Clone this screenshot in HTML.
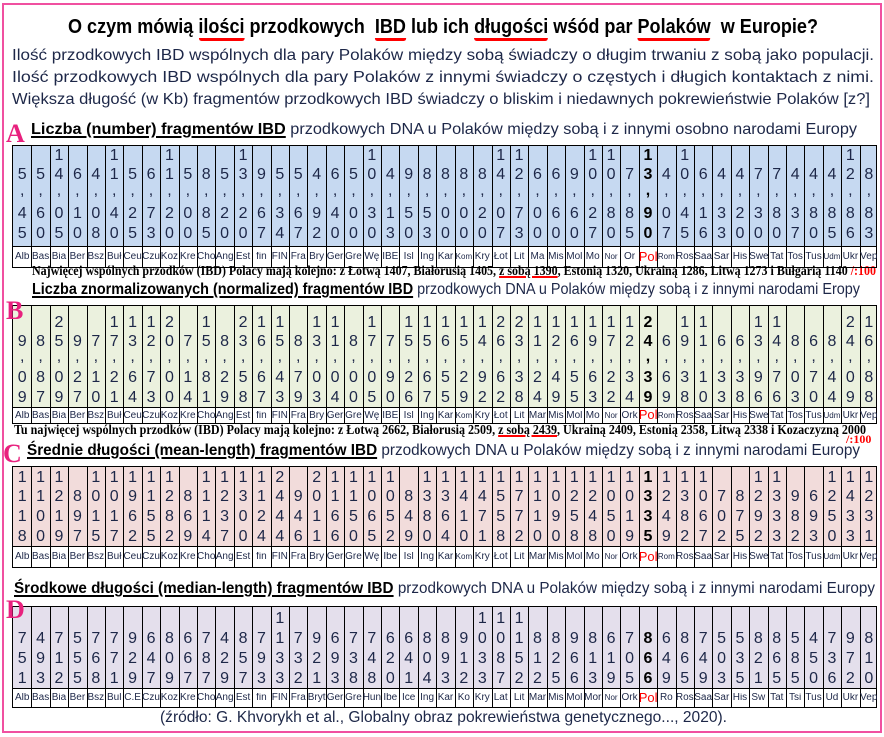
<!DOCTYPE html>
<html><head><meta charset="utf-8">
<style>
html,body{margin:0;padding:0;background:#fff;}
#page{position:relative;width:884px;height:737px;overflow:hidden;background:#fff;font-family:"Liberation Sans",sans-serif;color:#1d2748;}
.t{position:absolute;white-space:nowrap;transform-origin:0 0;line-height:1;}
.b{font-weight:bold;}
.u{text-decoration:underline;text-decoration-thickness:2px;text-underline-offset:2px;color:#000;}
.ru{border-bottom:3px solid #f00;border-radius:3px;padding-bottom:0px;}
.foot{font-family:"Liberation Serif",serif;font-weight:bold;color:#000;font-size:14px;}
.big{position:absolute;font-family:"Liberation Serif",serif;font-weight:bold;color:#e8217e;font-size:26px;line-height:1;z-index:5;}
.cell{position:absolute;text-align:center;font-size:16px;line-height:1;}
.lbl{position:absolute;text-align:center;font-size:10px;line-height:1;overflow:hidden;white-space:nowrap;}
</style></head>
<body>
<div id="page">
  <div style="position:absolute;left:2px;top:3px;width:876px;height:726px;border:2px solid #f050a0;"></div>

  <div class="t b" id="title" data-x="68" data-y="17" data-w="750" style="font-size:20px;color:#000;">O czym mówią <span class="ru">ilości</span> przodkowych &nbsp;<span class="ru">IBD</span> lub ich <span class="ru">długości</span> wśód par <span class="ru">Polaków</span> &nbsp;w Europie?</div>

  <div class="t" data-x="12" data-y="48" data-w="862" style="font-size:16px;">Ilość przodkowych IBD wspólnych dla pary Polaków między sobą świadczy o długim trwaniu z sobą jako populacji.</div>
  <div class="t" data-x="12" data-y="70" data-w="862" style="font-size:16px;">Ilość przodkowych IBD wspólnych dla pary Polaków z innymi świadczy o częstych i długich kontaktach z nimi.</div>
  <div class="t" data-x="12" data-y="92" data-w="858" style="font-size:16px;">Większa długość (w Kb) fragmentów przodkowych IBD świadczy o bliskim i niedawnych pokrewieństwie Polaków [z?]</div>

  <div class="t" data-x="31" data-y="122" data-w="826" style="font-size:16px;"><span class="u b">Liczba (number) fragmentów IBD</span> przodkowych DNA u Polaków między sobą i z innymi osobno narodami Europy</div>

  <div class="t foot" data-x="32" data-y="265" data-w="844">Najwięcej wspólnych przodków (IBD) Polacy mają kolejno: z Łotwą 1407, Białorusią 1405, <span style="text-decoration:underline;text-decoration-color:#f00;text-decoration-thickness:2px;">z sobą 1390</span>, Estonią 1320, Ukrainą 1286, Litwą 1273 i Bułgarią 1140 <span style="color:#f00;">/:100</span></div>

  <div class="t" data-x="32" data-y="282" data-w="828" style="font-size:16px;"><span class="u b">Liczba znormalizowanych (normalized) fragmentów IBD</span> przodkowych DNA u Polaków między sobą i z innymi narodami Eropy</div>

  <div class="t foot" data-x="14" data-y="424" data-w="852">Tu najwięcej wspólnych przodków (IBD) Polacy mają kolejno: z Łotwą 2662, Białorusią 2509, <span style="text-decoration:underline;text-decoration-color:#f00;text-decoration-thickness:2px;">z sobą 2439</span>, Ukrainą 2409, Estonią 2358, Litwą 2338 i Kozaczyzną 2000</div>
  <div class="t foot" style="left:846px;top:433px;color:#f00;font-size:12px;">/:100</div>

  <div class="t" data-x="27" data-y="443" data-w="833" style="font-size:16px;"><span class="u b">Średnie długości (mean-length) fragmentów IBD</span> przodkowych DNA u Polaków między sobą i z innymi narodami Europy</div>

  <div class="t" data-x="14" data-y="581" data-w="861" style="font-size:16px;"><span class="u b">Środkowe długości (median-length) fragmentów IBD</span> przodkowych DNA u Polaków między sobą i z innymi narodami Europy</div>

  <div class="t" data-x="160" data-y="710" data-w="567" style="font-size:16px;">(źródło: G. Khvorykh et al., Globalny obraz pokrewieństwa genetycznego..., 2020).</div>

  <div id="tables"></div>
  <div class="big" style="left:6px;top:121px;">A</div>
  <div class="big" style="left:6px;top:298px;">B</div>
  <div class="big" style="left:3px;top:441px;">C</div>
  <div class="big" style="left:6px;top:597px;">D</div>
</div>

<script>
// ---- data ----
const labelsA = ["Alb","Bas","Bia","Ber","Bsz","Buł","Ceu","Czu","Koz","Kre","Cho","Ang","Est","fin","FIN","Fra","Bry","Ger","Gre","Wę","IBE","Isl","Ing","Kar","Kom","Kry","Łot","Lit","Ma","Mis","Mol","Mo","Nor","Or","Pol","Rom","Ros","Saa","Sar","His","Swe","Tat","Tos","Tus","Udm","Ukr","Vep"];
const valuesA = [5.45,5.60,14.05,6.10,4.08,11.40,5.25,6.73,11.20,5.00,8.85,5.20,13.20,9.67,5.34,5.67,4.92,6.40,5.00,10.30,4.13,9.50,8.53,8.00,8.00,8.20,14.07,12.73,6.00,6.60,9.60,10.27,10.80,7.85,13.90,4.07,10.45,6.16,4.33,4.20,7.30,7.80,4.37,4.80,4.85,12.86,8.83];
const labelsB = ["Alb","Bas","Bia","Ber","Bsz","Buł","Ceu","Czu","Koz","Kre","Cho","Ang","Est","fin","FIN","Fra","Bry","Ger","Gre","Wę","IBE","Isl","Ing","Kar","Kom","Kry","Łot","Lit","Mar","Mis","Mol","Mo","Nor","Ork","Pol","Rom","Ros","Saa","Sar","His","Swe","Tat","Tos","Tus","Udm","Ukr","Vep"];
const valuesB = [9.09,8.87,25.09,9.27,7.10,17.21,13.64,12.73,20.00,7.14,15.81,8.29,23.58,16.67,15.43,8.79,13.03,11.04,8.00,17.05,7.90,15.26,15.67,16.55,15.29,14.92,26.62,23.38,11.24,12.49,16.55,19.63,17.22,12.34,24.39,6.69,19.38,11.10,6.33,6.38,13.96,14.76,8.03,6.70,8.44,24.09,16.88];
const labelsC = ["Alb","Bas","Bia","Ber","Bsz","Buł","Ceu","Czu","Koz","Kre","Cho","Ang","Est","fin","FIN","Fra","Bry","Ger","Gre","Wę","Ibe","Isl","Ing","Kar","Kom","Kry","Łot","Lit","Mar","Mis","Mol","Mo","Nor","Ork","Pol","Rom","Ros","Saa","Sar","His","Swe","Tat","Tos","Tus","Udm","Ukr","Vep"];
const valuesC = [1118,1100,1219,897,1015,1017,1962,1155,1282,869,1114,1237,1300,1124,2444,946,2011,1166,1150,1065,1052,849,1380,1364,1410,1471,1558,1772,1110,1090,1258,1248,1050,1019,1335,1249,1382,1067,702,875,1292,1333,982,693,1250,1433,1231];
const labelsD = ["Alb","Bas","Bia","Ber","Bsz","Bul","C.E","Czu","Koz","Kre","Cho","Ang","Est","fin","FIN","Fra","Bryt","Ger","Gre","Hun","Ibe","Ice","Ing","Kar","Ko","Kry","Lat","Lit","Mar","Mis","Mol","Mor","Nor","Ork","Pol","Ro","Ros","Saa","Sar","His","Sw","Tat","Tsi","Tus","Ud","Ukr","Vep"];
const valuesD = [751,493,712,555,768,771,929,647,809,667,787,429,857,793,1133,732,921,693,738,748,620,641,804,893,912,1033,1087,1152,812,825,966,813,619,705,866,649,865,749,503,535,821,865,585,450,736,972,810];

const smallLabels = ["Kom","Nor","Rom","Udm"];

function fmtDec(v){ return v.toFixed(2).replace('.', ','); }
function fmtInt(v){ return String(Math.round(v)); }

const X0 = 12, X1 = 877;

function drawTable(key, labels, values, fmt, fill, top, rowY, valBottom, labBottom){
  const cont = document.getElementById('tables');
  const n = labels.length;
  const cw = (X1 - X0) / n;
  const box = document.createElement('div');
  
  
  box.style.cssText = `position:absolute;left:${X0}px;top:${top}px;width:${X1-X0}px;height:${labBottom-top}px;border:1px solid #000;box-sizing:border-box;`;
  cont.appendChild(box);
  const fillDiv = document.createElement('div');
  
  
  fillDiv.style.cssText = `position:absolute;left:0;top:0;right:0;height:${valBottom-top-1}px;background:${fill};border-bottom:1px solid #000;`;
  box.appendChild(fillDiv);
  const nRows = rowY.length;
  for (let i = 0; i < n; i++){
    const x = i * cw;
    if (i > 0){
      const ln = document.createElement('div');
      
      
      ln.style.cssText = `position:absolute;left:${x}px;top:0;width:1px;bottom:0;background:#000;`;
      box.appendChild(ln);
    }
    const isPol = labels[i] === 'Pol';
    const s = fmt(values[i]);
    const chars = s.split('');
    const off = nRows - chars.length;
    chars.forEach((ch, j) => {
      const d = document.createElement('div');
      
      
      d.className = 'cell';
      const cy = rowY[off + j] - top;
      d.style.cssText += `left:${x}px;width:${cw}px;top:${cy-8}px;height:16px;` + (isPol ? 'font-weight:bold;color:#000;' : '') + (ch === ',' ? 'top:' + (cy - 10) + 'px;' : '');
      d.textContent = ch;
      box.appendChild(d);
    });
    const lb = document.createElement('div');
    
    
    lb.className = 'lbl';
    const lh = labBottom - valBottom;
    let fs = smallLabels.includes(labels[i]) ? 8 : 10;
    let col = '#1d2748';
    let dy = -1;
    if (isPol){ fs = 13; col = '#f00'; dy = -2; }
    lb.style.cssText += `left:${x}px;width:${cw}px;top:${valBottom-top + (lh-fs)/2 + dy}px;font-size:${fs}px;color:${col};`;
    lb.textContent = labels[i];
    box.appendChild(lb);
  }
}

drawTable('a', labelsA, valuesA, fmtDec, '#c6d9f1', 145, [155,174,192,213,233], 246, 268);
drawTable('b', labelsB, valuesB, fmtDec, '#ebf1de', 305, [322,341,358,377,397], 407, 424);
drawTable('c', labelsC, valuesC, fmtInt, '#f2dcdb', 466, [477,496,516,536], 546, 568);
drawTable('d', labelsD, valuesD, fmtInt, '#e4dfec', 606, [618,638,658,678], 688, 708);

document.querySelectorAll('.t[data-w]').forEach(el => {
  el.style.left = el.dataset.x + 'px';
  el.style.top = el.dataset.y + 'px';
  const w = el.getBoundingClientRect().width;
  const target = parseFloat(el.dataset.w);
  if (w > 0) el.style.transform = `scaleX(${target / w})`;
});
</script>
</body></html>
